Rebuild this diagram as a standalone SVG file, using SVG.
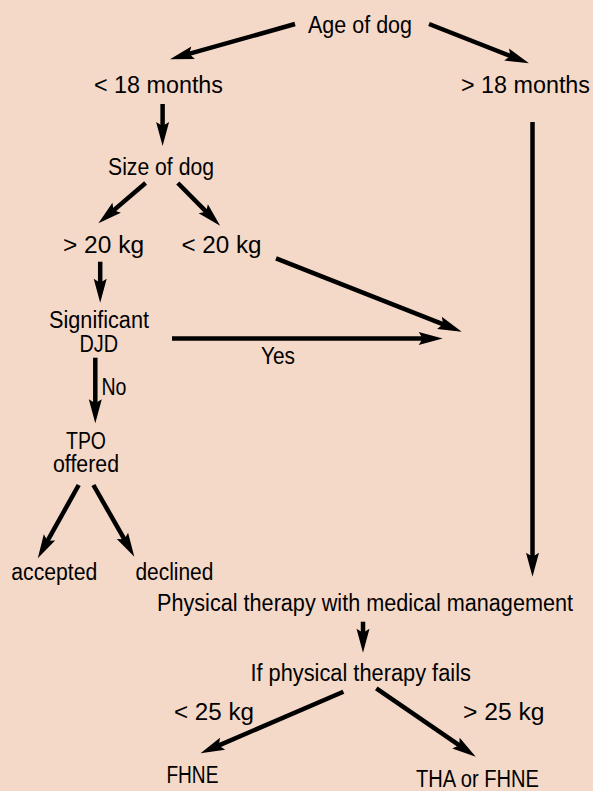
<svg xmlns="http://www.w3.org/2000/svg" width="593" height="791" viewBox="0 0 593 791">
<style>
  text { font-family: "Liberation Sans", Arial, sans-serif; font-size: 23px; fill: #000; }
  .c line { stroke: #000; stroke-width: 4.5; marker-end: url(#ah); }
</style>
<defs>
  <marker id="ah" markerUnits="userSpaceOnUse" viewBox="-12 -8 29 16" refX="0" refY="0" markerWidth="29" markerHeight="16" orient="auto" overflow="visible">
    <path d="M15,0 L-9,-6.5 L-5,0 L-9,6.5 Z" fill="#000"/>
  </marker>
</defs>
<rect x="0" y="0" width="593" height="791" fill="#F5D9C8"/>

<g id="connectors" class="c">
  <line x1="295" y1="24" x2="184.4" y2="55.2"/>
  <line x1="429" y1="24" x2="515" y2="57.8"/>
  <line x1="162.6" y1="104" x2="162.6" y2="131"/>
  <line x1="145.6" y1="183" x2="109.8" y2="213.6"/>
  <line x1="177.8" y1="183" x2="209.6" y2="215.2"/>
  <line x1="100.2" y1="261.7" x2="100.2" y2="287.7"/>
  <line x1="172" y1="338.6" x2="427.7" y2="338.6"/>
  <line x1="276" y1="258.3" x2="447.8" y2="326.2"/>
  <line x1="95.3" y1="357.7" x2="95.3" y2="408.3"/>
  <line x1="78.7" y1="485" x2="45.1" y2="545.2"/>
  <line x1="93.4" y1="485" x2="126.9" y2="543.7"/>
  <line x1="532.5" y1="122" x2="532.5" y2="561.7"/>
  <line x1="363" y1="621.7" x2="363" y2="637.7"/>
  <line x1="343.4" y1="691.7" x2="214.3" y2="747.4"/>
  <line x1="376.3" y1="688.3" x2="463.4" y2="748.2"/>
</g>

<g id="age"><text x="308" y="33.3" textLength="104" lengthAdjust="spacingAndGlyphs">Age of dog</text></g>
<g id="lt18"><text x="94" y="92.7" textLength="129" lengthAdjust="spacingAndGlyphs">&lt; 18 months</text></g>
<g id="gt18"><text x="461" y="92.7" textLength="129" lengthAdjust="spacingAndGlyphs">&gt; 18 months</text></g>
<g id="size"><text x="108" y="175" textLength="106" lengthAdjust="spacingAndGlyphs">Size of dog</text></g>
<g id="gt20"><text x="63" y="253.3" textLength="81" lengthAdjust="spacingAndGlyphs">&gt; 20 kg</text></g>
<g id="lt20"><text x="181.5" y="253.3" textLength="80" lengthAdjust="spacingAndGlyphs">&lt; 20 kg</text></g>
<g id="djd">
  <text x="49" y="328.3" textLength="100" lengthAdjust="spacingAndGlyphs">Significant</text>
  <text x="79.4" y="352.3" textLength="38.6" lengthAdjust="spacingAndGlyphs">DJD</text>
</g>
<g id="yes"><text x="261" y="364" textLength="34" lengthAdjust="spacingAndGlyphs">Yes</text></g>
<g id="no"><text x="101.4" y="395" textLength="25" lengthAdjust="spacingAndGlyphs">No</text></g>
<g id="tpo">
  <text x="66" y="449.3" textLength="40" lengthAdjust="spacingAndGlyphs">TPO</text>
  <text x="53" y="471.7" textLength="66" lengthAdjust="spacingAndGlyphs">offered</text>
</g>
<g id="accepted"><text x="11.3" y="580" textLength="86" lengthAdjust="spacingAndGlyphs">accepted</text></g>
<g id="declined"><text x="135.4" y="580" textLength="78" lengthAdjust="spacingAndGlyphs">declined</text></g>
<g id="pt"><text x="157" y="611" textLength="416" lengthAdjust="spacingAndGlyphs">Physical therapy with medical management</text></g>
<g id="fails"><text x="250.4" y="680.7" textLength="220.5" lengthAdjust="spacingAndGlyphs">If physical therapy fails</text></g>
<g id="lt25"><text x="174" y="720" textLength="80" lengthAdjust="spacingAndGlyphs">&lt; 25 kg</text></g>
<g id="gt25"><text x="463" y="720" textLength="81.5" lengthAdjust="spacingAndGlyphs">&gt; 25 kg</text></g>
<g id="fhne"><text x="166.4" y="783.3" textLength="52" lengthAdjust="spacingAndGlyphs">FHNE</text></g>
<g id="tha"><text x="416" y="786.7" textLength="123" lengthAdjust="spacingAndGlyphs">THA or FHNE</text></g>
</svg>
